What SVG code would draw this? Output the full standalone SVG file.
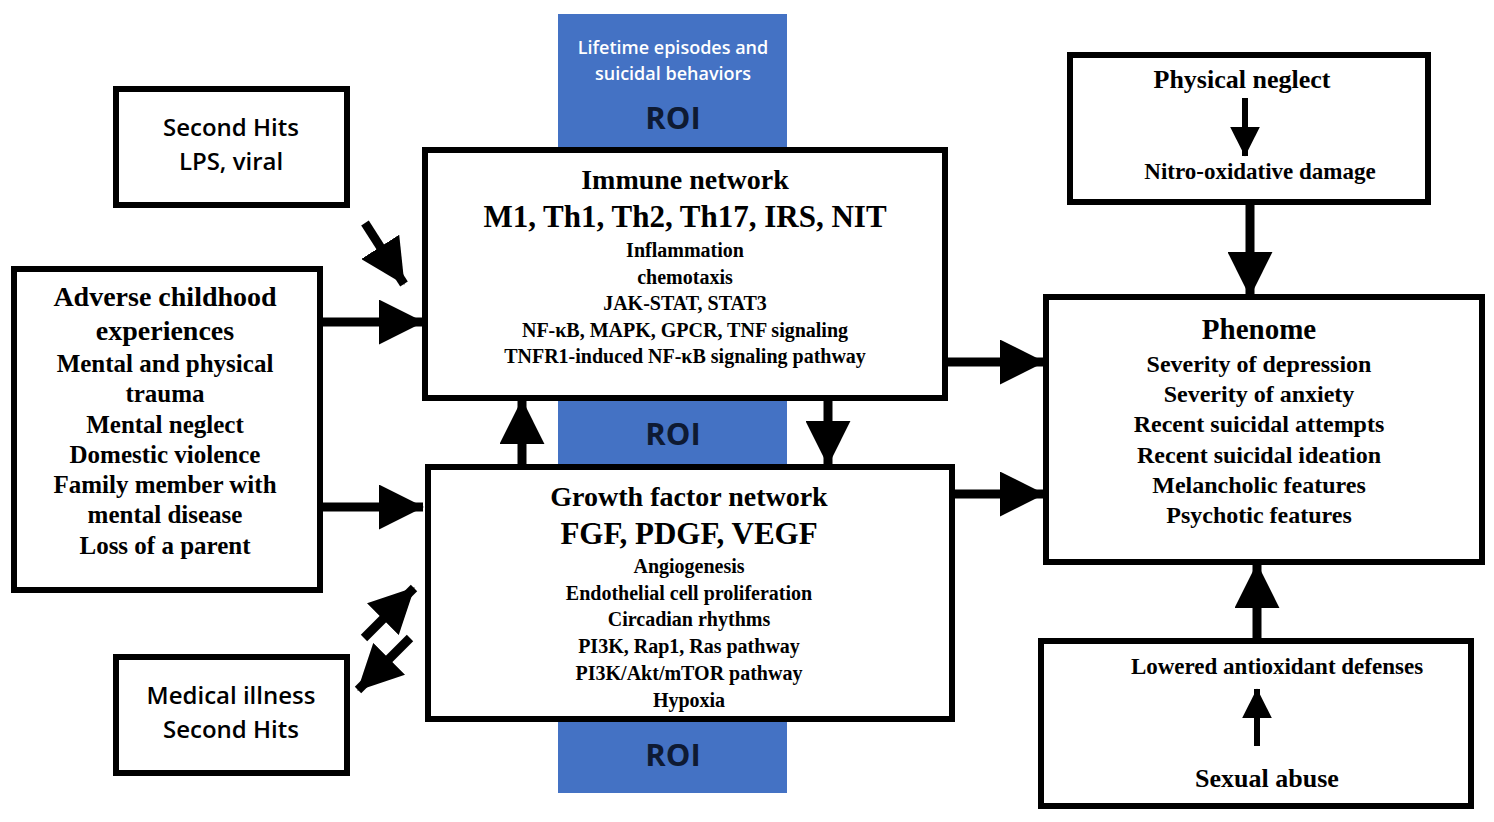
<svg xmlns="http://www.w3.org/2000/svg" width="1494" height="822" viewBox="0 0 1494 822">
<style>
.box{fill:#fff;stroke:#000;stroke-width:6}
.ser{font-family:"Liberation Serif","Times New Roman",serif;font-weight:bold;fill:#000;text-anchor:middle}
.san{font-family:"Open Sans","Liberation Sans",sans-serif;font-weight:600;text-anchor:middle}
.roi{font-family:"Open Sans","Liberation Sans",sans-serif;font-weight:bold;font-size:31px;fill:#0e1a33;text-anchor:middle}
.c{stroke:#000;stroke-width:9;fill:none}
</style>
<defs>
<marker id="ah" markerUnits="strokeWidth" markerWidth="5" markerHeight="5" refX="4.9" refY="2.5" orient="auto">
<path d="M0,0 L5,2.5 L0,5 z" fill="#000"/>
</marker>
</defs>
<g id="roi-band">
<rect x="558" y="14" width="229" height="779" fill="#4472c4"/>
<text class="san" x="673" y="54" font-size="18" fill="#fff">Lifetime episodes and</text>
<text class="san" x="673" y="80" font-size="18" fill="#fff">suicidal behaviors</text>
<text class="roi" x="673" y="129">ROI</text>
<text class="roi" x="673" y="445">ROI</text>
<text class="roi" x="673" y="766">ROI</text>
</g>
<g id="connectors">
<line class="c" x1="365" y1="223" x2="404" y2="284" marker-end="url(#ah)"/>
<line class="c" x1="320" y1="322" x2="423" y2="322" marker-end="url(#ah)"/>
<line class="c" x1="320" y1="507" x2="423" y2="507" marker-end="url(#ah)"/>
<line class="c" x1="364" y1="638" x2="414" y2="588" marker-end="url(#ah)"/>
<line class="c" x1="410" y1="638" x2="358" y2="690" marker-end="url(#ah)"/>
<line class="c" x1="522" y1="465" x2="522" y2="400" marker-end="url(#ah)"/>
<line class="c" x1="828" y1="398" x2="828" y2="465" marker-end="url(#ah)"/>
<line class="c" x1="945" y1="362" x2="1044" y2="362" marker-end="url(#ah)"/>
<line class="c" x1="952" y1="494" x2="1044" y2="494" marker-end="url(#ah)"/>
<line class="c" x1="1250" y1="202" x2="1250" y2="296" marker-end="url(#ah)"/>
<line class="c" x1="1257" y1="641" x2="1257" y2="564" marker-end="url(#ah)"/>
</g>
<g id="second-hits">
<rect class="box" x="116" y="89" width="231" height="116"/>
<text class="san" x="231" y="136" font-size="24">Second Hits</text>
<text class="san" x="231" y="170" font-size="24">LPS, viral</text>
</g>
<g id="adverse">
<rect class="box" x="14" y="269" width="306" height="321"/>
<g class="ser" font-size="25">
<text x="165" y="306" font-size="28">Adverse childhood</text>
<text x="165" y="340" font-size="28">experiences</text>
<text x="165" y="372">Mental and physical</text>
<text x="165" y="402">trauma</text>
<text x="165" y="433">Mental neglect</text>
<text x="165" y="463">Domestic violence</text>
<text x="165" y="493">Family member with</text>
<text x="165" y="523">mental disease</text>
<text x="165" y="554">Loss of a parent</text>
</g>
</g>
<g id="medical">
<rect class="box" x="116" y="657" width="231" height="116"/>
<text class="san" x="231" y="704" font-size="24">Medical illness</text>
<text class="san" x="231" y="738" font-size="24">Second Hits</text>
</g>
<g id="immune">
<rect class="box" x="425" y="150" width="520" height="248"/>
<g class="ser" font-size="20">
<text x="685" y="189" font-size="28">Immune network</text>
<text x="685" y="227" font-size="31">M1, Th1, Th2, Th17, IRS, NIT</text>
<text x="685" y="257">Inflammation</text>
<text x="685" y="284">chemotaxis</text>
<text x="685" y="310">JAK-STAT, STAT3</text>
<text x="685" y="337">NF-κB, MAPK, GPCR, TNF signaling</text>
<text x="685" y="363">TNFR1-induced NF-κB signaling pathway</text>
</g>
</g>
<g id="growth">
<rect class="box" x="428" y="467" width="524" height="252"/>
<g class="ser" font-size="20">
<text x="689" y="506" font-size="28">Growth factor network</text>
<text x="689" y="544" font-size="31">FGF, PDGF, VEGF</text>
<text x="689" y="573">Angiogenesis</text>
<text x="689" y="600">Endothelial cell proliferation</text>
<text x="689" y="626">Circadian rhythms</text>
<text x="689" y="653">PI3K, Rap1, Ras pathway</text>
<text x="689" y="680">PI3K/Akt/mTOR pathway</text>
<text x="689" y="707">Hypoxia</text>
</g>
</g>
<g id="physical-neglect">
<rect class="box" x="1070" y="55" width="358" height="147"/>
<text class="ser" x="1242" y="88" font-size="26">Physical neglect</text>
<line stroke="#000" stroke-width="6" x1="1245" y1="98" x2="1245" y2="156" marker-end="url(#ah)"/>
<text class="ser" x="1260" y="179" font-size="23">Nitro-oxidative damage</text>
</g>
<g id="phenome">
<rect class="box" x="1046" y="297" width="436" height="265"/>
<g class="ser" font-size="24">
<text x="1259" y="339" font-size="29">Phenome</text>
<text x="1259" y="372">Severity of depression</text>
<text x="1259" y="402">Severity of anxiety</text>
<text x="1259" y="432">Recent suicidal attempts</text>
<text x="1259" y="463">Recent suicidal ideation</text>
<text x="1259" y="493">Melancholic features</text>
<text x="1259" y="523">Psychotic features</text>
</g>
</g>
<g id="lowered">
<rect class="box" x="1041" y="641" width="430" height="165"/>
<text class="ser" x="1277" y="674" font-size="23">Lowered antioxidant defenses</text>
<line stroke="#000" stroke-width="6" x1="1257" y1="746" x2="1257" y2="689" marker-end="url(#ah)"/>
<text class="ser" x="1267" y="787" font-size="26">Sexual abuse</text>
</g>
</svg>
